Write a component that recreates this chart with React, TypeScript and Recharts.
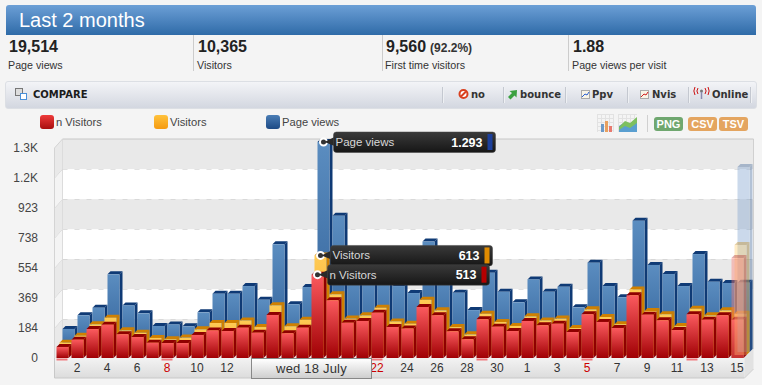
// Last 2 months - visits dashboard, 3D style column chart
import { BarChart, Bar, XAxis, YAxis, ReferenceArea } from 'recharts';

const days = [
  '1', '2', '3', '4', '5', '6', '7', '8', '9', '10', '11', '12', '13', '14', '15', '16',
  '17', '18', '19', '20', '21', '22', '23', '24', '25', '26', '27', '28', '29', '30', '31',
  '1', '2', '3', '4', '5', '6', '7', '8', '9', '10', '11', '12', '13', '14', '15',
];
const sundays = [0, 7, 14, 21, 28, 35, 42];
// these sit under the "wed 18 July" tab
const coveredDays = [13, 14, 15, 16, 17, 18, 19, 20];

const nVisitors = [
  68, 113, 178, 205, 146, 129, 94, 92, 92, 142, 170, 166, 187, 156, 265, 152,
  187, 513, 355, 217, 228, 279, 191, 181, 314, 263, 164, 115, 238, 193, 166,
  228, 201, 211, 160, 269, 222, 185, 386, 267, 232, 172, 269, 236, 263, 236,
];
const visitors = [
  76, 119, 189, 230, 152, 137, 105, 97, 107, 158, 197, 197, 213, 172, 306, 177,
  217, 613, 374, 224, 244, 291, 207, 193, 340, 275, 172, 127, 254, 203, 179,
  238, 213, 224, 166, 281, 234, 190, 404, 271, 251, 178, 285, 244, 275, 254,
];
const pageViews = [
  142, 226, 273, 478, 287, 238, 160, 170, 158, 244, 359, 359, 406, 322, 663, 294,
  400, 1293, 839, 470, 440, 450, 406, 363, 680, 480, 365, 258, 488, 371, 306,
  447, 371, 402, 275, 550, 406, 337, 808, 536, 480, 406, 603, 433, 425, 427,
];

const hoverIndex = 17;
const ghostIndex = 45;
const ghostNVisitors = 616;
const ghostVisitors = 677;
const ghostPageViews = 1139;

const yTicks = [0, 184, 369, 554, 738, 923, 1108, 1293];
const yLabels = ['0', '184', '369', '554', '738', '923', '1.2K', '1.3K'];

const chartData = days.map((day, i) => ({
  day,
  nVisitors: nVisitors[i],
  visitors: visitors[i],
  pageViews: pageViews[i],
  ghostN: i === ghostIndex ? ghostNVisitors : null,
  ghostV: i === ghostIndex ? ghostVisitors : null,
  ghostP: i === ghostIndex ? ghostPageViews : null,
  hoverN: i === hoverIndex ? nVisitors[i] : null,
  hoverV: i === hoverIndex ? visitors[i] : null,
  hoverP: i === hoverIndex ? pageViews[i] : null,
}));

const FONT = '"Liberation Sans", Arial, sans-serif';
const BOLD_UI = '"DejaVu Sans", Verdana, sans-serif';

function Bar3D(props: any) {
  const { x, y, width, height, depth, fill, dark, opacity } = props;
  if (!height || height <= 0) return null;
  const s = 3;
  const fx = x + depth;
  const fy = y - depth;
  const base = fy + height;
  return (
    <g opacity={opacity ?? 1}>
      <polygon
        points={`${fx},${fy} ${fx + s},${fy - s} ${fx + width + s},${fy - s} ${fx + width},${fy}`}
        fill={dark}
      />
      <polygon
        points={`${fx + width},${fy} ${fx + width + s},${fy - s} ${fx + width + s},${base - s} ${fx + width},${base}`}
        fill={dark}
      />
      <rect x={fx} y={fy} width={width} height={height} fill={fill} />
    </g>
  );
}

function HoverTip(props: any) {
  const { x, y, width, height, depth, label, text, chip } = props;
  if (!height || height <= 0) return null;
  const cx = x + depth + width / 2;
  const cy = y - depth;
  const tx = cx + 10;
  return (
    <g>
      <circle cx={cx} cy={cy} r={3.5} fill="#333" stroke="#fff" strokeWidth={2} />
      <polygon points={`${cx + 1},${cy} ${tx + 1},${cy - 5} ${tx + 1},${cy + 4}`} fill="#2a2a2a" />
      <rect x={tx} y={cy - 10} width={162} height={20.5} rx={3} fill="url(#tipFill)" stroke="#444" strokeWidth={0.5} />
      <text x={tx + 2} y={cy + 4} fontSize={11.5} fill="#d8d8d8" fontFamily={FONT}>{label}</text>
      <text x={tx + 149} y={cy + 4.5} fontSize={12.5} fontWeight="bold" fill="#fff" textAnchor="end" fontFamily={FONT}>{text}</text>
      <rect x={tx + 154} y={cy - 8} width={5} height={16} fill={chip} />
    </g>
  );
}

function WallBand(props: any) {
  const { x, y, width, height, shade, floor } = props;
  const dx = 8;
  const dy = 9;
  const right = x + width + 9;
  const bottom = y + height;
  return (
    <g>
      <rect x={x + dx} y={y - dy} width={width + 1} height={height} fill={shade ? '#e9e9e9' : '#fff'} />
      <polygon
        points={`${x},${y} ${x + dx},${y - dy} ${x + dx},${bottom - dy} ${x},${bottom}`}
        fill={shade ? '#e9e9e9' : '#f4f4f4'}
      />
      <line x1={x} y1={y} x2={x + dx} y2={y - dy} stroke="#d4d4d4" />
      <line x1={x} y1={y} x2={x} y2={bottom} stroke="#d4d4d4" />
      <line x1={x + dx} y1={y - dy} x2={x + dx} y2={bottom - dy} stroke="#dcdcdc" />
      <line x1={right} y1={y - dy} x2={right} y2={bottom - dy} stroke="#d0d0d0" />
      <line x1={x + dx} y1={y - dy} x2={right} y2={y - dy} stroke="#c8c8c8" strokeDasharray={props.top ? undefined : '5 7'} />
      {floor && (
        <g>
          <polygon points={`${x},${bottom} ${x + dx},${bottom - dy} ${right},${bottom - dy} ${x + width},${bottom}`} fill="#e4e4e4" />
          <rect x={x} y={bottom} width={width} height={20} fill="url(#axisFill)" />
          <line x1={x} y1={bottom} x2={x} y2={bottom + 20} stroke="#c8c8c8" />
          <line x1={x} y1={bottom + 20} x2={x + width} y2={bottom + 20} stroke="#c8c8c8" />
          <polygon points={`${x + width},${bottom} ${right},${bottom - dy} ${right},${bottom + 11} ${x + width},${bottom + 20}`} fill="#e2e2e2" />
          <line x1={x + width} y1={bottom + 20} x2={right} y2={bottom + 11} stroke="#d0d0d0" />
        </g>
      )}
    </g>
  );
}

function DayTick(props: any) {
  const { x, payload, index } = props;
  const i = payload?.index ?? index;
  const sunday = sundays.includes(i);
  return (
    <g>
      {sunday && <rect x={x - 5.5} y={358.5} width={11} height={2} fill="#ef7a7f" />}
      {i % 2 === 1 && !coveredDays.includes(i) && (
        <text x={x} y={372} fontSize={12} textAnchor="middle" fontFamily={FONT} fill={sunday ? '#cc0000' : '#333'}>
          {days[i]}
        </text>
      )}
    </g>
  );
}

const stats = [
  { x: 9, value: '19,514', extra: '', label: 'Page views' },
  { x: 198, value: '10,365', extra: '', label: 'Visitors' },
  { x: 386, value: '9,560', extra: '(92.2%)', label: 'First time visitors' },
  { x: 573, value: '1.88', extra: '', label: 'Page views per visit' },
];
const statSeparators = [193, 382, 568];
const toolSeparators = [442, 503, 565, 627, 688, 750];
const toolLabels = [
  { x: 471, text: 'no' },
  { x: 520, text: 'bounce' },
  { x: 592, text: 'Ppv' },
  { x: 652, text: 'Nvis' },
  { x: 712, text: 'Online' },
];
const legendItems = [
  { x: 40, tx: 56, text: 'n Visitors', bg: 'linear-gradient(#ee3a3a,#a80f0f)' },
  { x: 154, tx: 170, text: 'Visitors', bg: 'linear-gradient(#ffc23c,#f59a10)' },
  { x: 266, tx: 282, text: 'Page views', bg: 'linear-gradient(#4a7db5,#1d4a85)' },
];
const badges = [
  { x: 654, w: 29, text: 'PNG', bg: '#6fa76f' },
  { x: 688, w: 29, text: 'CSV', bg: '#e4a560' },
  { x: 719, w: 29, text: 'TSV', bg: '#e4a560' },
];

function abs(x: number, y: number, w?: number, h?: number): any {
  return { position: 'absolute', left: x, top: y, width: w, height: h };
}

function ToolIcons() {
  return (
    <svg style={abs(0, 0, 762, 140)} width={762} height={140}>
      {/* compare */}
      <rect x={15.5} y={88.5} width={7} height={7} fill="#ddd" stroke="#777" />
      <rect x={20.5} y={93.5} width={6} height={6} fill="#fff" stroke="#4a90d9" />
      {/* no */}
      <circle cx={463.5} cy={94} r={4} fill="#fff" stroke="#d9401f" strokeWidth={2} />
      <line x1={461} y1={96.5} x2={466} y2={91.5} stroke="#d9401f" strokeWidth={2} />
      {/* bounce */}
      <polygon points="508,97 512,93 509.5,91 517,90 516.5,97.5 514.5,95.5 510.5,99.5" fill="#3aa040" />
      {/* Ppv */}
      <rect x={581.5} y={90.5} width={8} height={8} fill="#f8f4e6" stroke="#aaa" />
      <polyline points="582,97 585,94 587,95 589,92" fill="none" stroke="#2a5fd0" />
      {/* Nvis */}
      <rect x={640.5} y={90.5} width={8} height={8} fill="#f8f4e6" stroke="#aaa" />
      <polyline points="641,97 644,94 646,95 648,92" fill="none" stroke="#d02020" />
      {/* Online */}
      <circle cx={701.5} cy={91} r={1.5} fill="#777" />
      <line x1={701.5} y1={92} x2={701.5} y2={99} stroke="#8a8ab0" strokeWidth={1.5} />
      <path d="M698 88 a5 5 0 0 0 0 6 M705 88 a5 5 0 0 1 0 6 M695 87 a8 8 0 0 0 0 8 M708 87 a8 8 0 0 1 0 8" fill="none" stroke="#cc1010" />
      {/* chart type toggles */}
      <g stroke="#e2e2e2">
        {[597, 601, 605, 609, 613].map((v) => <line key={`a${v}`} x1={v + 0.5} y1={114} x2={v + 0.5} y2={132} />)}
        {[114, 118, 122, 126, 130].map((v) => <line key={`b${v}`} x1={597} y1={v + 0.5} x2={614} y2={v + 0.5} />)}
        {[618, 622, 626, 630, 634].map((v) => <line key={`c${v}`} x1={v + 0.5} y1={114} x2={v + 0.5} y2={132} />)}
        {[114, 118, 122, 126, 130].map((v) => <line key={`d${v}`} x1={618} y1={v + 0.5} x2={637} y2={v + 0.5} />)}
      </g>
      <rect x={601} y={124} width={3} height={8} fill="#6d9ac8" />
      <rect x={605} y={121} width={3} height={11} fill="#e8a060" />
      <rect x={609} y={126} width={3} height={6} fill="#e87a70" />
      <polygon points="619,132 619,126 625,122 630,125 637,118 637,132" fill="#5a9fd0" />
      <polygon points="619,127 625,121 630,123 637,117 637,123 630,128 625,126 619,130" fill="#7dc060" />
      <line x1={647.5} y1={115} x2={647.5} y2={132} stroke="#d0d0d0" />
    </svg>
  );
}

export default function App() {
  return (
    <div style={{ position: 'fixed', left: 0, top: 0, width: 762, height: 385, background: '#f4f4f4', overflow: 'hidden', fontFamily: FONT, color: '#222' }}>
      {/* title */}
      <div style={{ ...abs(6, 5, 750, 30), background: 'linear-gradient(#6c9fd6,#2f6ba8)', borderRadius: '3px 3px 0 0' }} />
      <div style={{ ...abs(19, 7), fontSize: 20, color: '#fff', whiteSpace: 'nowrap', lineHeight: '26px' }}>Last 2 months</div>

      {/* stats row */}
      {statSeparators.map((x) => (
        <div key={x} style={{ ...abs(x, 35, 1, 36), background: '#ccc' }} />
      ))}
      {stats.map((s) => (
        <div key={s.x}>
          <div style={{ ...abs(s.x, 38), fontSize: 16, fontWeight: 'bold', lineHeight: '18px', whiteSpace: 'nowrap', color: '#222' }}>
            {s.value}
            {s.extra && <span style={{ fontSize: 12, marginLeft: 4, color: '#333' }}>{s.extra}</span>}
          </div>
          <div style={{ ...abs(s.x - 1, 58), fontSize: 10.7, lineHeight: '14px', whiteSpace: 'nowrap', color: '#333' }}>{s.label}</div>
        </div>
      ))}

      {/* compare toolbar */}
      <div style={{ ...abs(5, 81, 750, 26), background: 'linear-gradient(#f3f4f7,#d3d7e0)', border: '1px solid #dcdfe4', borderRadius: 3 }} />
      <div style={{ ...abs(33, 88), fontFamily: BOLD_UI, fontWeight: 'bold', fontSize: 10, lineHeight: '14px', color: '#1c1c1c' }}>COMPARE</div>
      {toolSeparators.map((x) => (
        <div key={x} style={{ ...abs(x, 87, 1, 16), background: '#eef0f3', borderLeft: '1px solid #c4c8d0' }} />
      ))}
      {toolLabels.map((t) => (
        <div key={t.text} style={{ ...abs(t.x, 88), fontFamily: BOLD_UI, fontWeight: 'bold', fontSize: 10, lineHeight: '14px', color: '#333' }}>{t.text}</div>
      ))}

      {/* legend */}
      {legendItems.map((l) => (
        <div key={l.text}>
          <div style={{ ...abs(l.x, 115, 14, 14), background: l.bg, borderRadius: 3 }} />
          <div style={{ ...abs(l.tx, 115), fontSize: 11.2, lineHeight: '14px', color: '#444', whiteSpace: 'nowrap' }}>{l.text}</div>
        </div>
      ))}
      {badges.map((b) => (
        <div key={b.text} style={{ ...abs(b.x, 117, b.w, 14), background: b.bg, borderRadius: 3, color: '#fff', fontWeight: 'bold', fontSize: 11, lineHeight: '14px', textAlign: 'center' }}>{b.text}</div>
      ))}
      <ToolIcons />

      {/* chart */}
      <div style={abs(0, 0, 762, 385)}>
        <BarChart
          width={762}
          height={385}
          data={chartData}
          margin={{ top: 148, right: 17, bottom: 23, left: 0 }}
          barSize={12}
          barGap={-12}
          style={{ overflow: 'visible' }}
        >
          <defs>
            <linearGradient id="blueFill" x1="0" y1="0" x2="0" y2="1">
              <stop offset="0%" stopColor="#5b8dc0" />
              <stop offset="100%" stopColor="#2e5e96" />
            </linearGradient>
            <linearGradient id="redFill" x1="0" y1="0" x2="0" y2="1">
              <stop offset="0%" stopColor="#fb5a5e" />
              <stop offset="100%" stopColor="#a00004" />
            </linearGradient>
            <linearGradient id="orangeFill" x1="0" y1="0" x2="0" y2="1">
              <stop offset="0%" stopColor="#ffcb55" />
              <stop offset="100%" stopColor="#f0a020" />
            </linearGradient>
            <linearGradient id="axisFill" x1="0" y1="0" x2="0" y2="1">
              <stop offset="0%" stopColor="#f3f3f3" />
              <stop offset="100%" stopColor="#dcdcdc" />
            </linearGradient>
            <linearGradient id="tipFill" x1="0" y1="0" x2="0" y2="1">
              <stop offset="0%" stopColor="#3a3a3a" />
              <stop offset="100%" stopColor="#161616" />
            </linearGradient>
          </defs>

          {yTicks.slice(0, -1).map((tick, i) => (
            <ReferenceArea
              key={tick}
              y1={tick}
              y2={yTicks[i + 1]}
              ifOverflow="visible"
              shape={(p: any) => <WallBand {...p} shade={i % 2 === 0} floor={i === 0} top={i === yTicks.length - 2} />}
            />
          ))}

          <XAxis
            dataKey="day"
            interval={0}
            height={4}
            axisLine={false}
            tickLine={false}
            padding={{ left: 8.5, right: 0.5 }}
            tick={(p: any) => <DayTick {...p} />}
          />
          <YAxis
            width={46}
            domain={[0, 1293]}
            ticks={yTicks}
            tickFormatter={(v: number) => yLabels[yTicks.indexOf(v)]}
            axisLine={false}
            tickLine={false}
            tickMargin={2}
            tick={{ fontSize: 12, fill: '#444', fontFamily: FONT }}
          />

          <Bar dataKey="pageViews" isAnimationActive={false} fill="#2e5e96" shape={(p: any) => <Bar3D {...p} depth={6} fill="url(#blueFill)" dark="#0f3a75" />} />
          <Bar dataKey="visitors" isAnimationActive={false} fill="#f0a020" shape={(p: any) => <Bar3D {...p} depth={3} fill="url(#orangeFill)" dark="#d08000" />} />
          <Bar dataKey="nVisitors" isAnimationActive={false} fill="#a00004" shape={(p: any) => <Bar3D {...p} depth={0} fill="url(#redFill)" dark="#8f0000" />} />

          <Bar dataKey="ghostP" isAnimationActive={false} shape={(p: any) => <Bar3D {...p} depth={6} fill="#7fa3cf" dark="#44699a" opacity={0.4} />} />
          <Bar dataKey="ghostV" isAnimationActive={false} shape={(p: any) => <Bar3D {...p} depth={3} fill="#ffd070" dark="#c08a20" opacity={0.4} />} />
          <Bar dataKey="ghostN" isAnimationActive={false} shape={(p: any) => <Bar3D {...p} depth={0} fill="#ff7d70" dark="#b03030" opacity={0.4} />} />

          <Bar dataKey="hoverP" isAnimationActive={false} shape={(p: any) => <HoverTip {...p} depth={6} label="Page views" text="1.293" chip="#1c3f9a" />} />
          <Bar dataKey="hoverV" isAnimationActive={false} shape={(p: any) => <HoverTip {...p} depth={3} label="Visitors" text="613" chip="#e08b00" />} />
          <Bar dataKey="hoverN" isAnimationActive={false} shape={(p: any) => <HoverTip {...p} depth={0} label="n Visitors" text="513" chip="#b50000" />} />
        </BarChart>
      </div>

      {/* selected day tab */}
      <div style={{ ...abs(251, 358, 119, 19), background: 'linear-gradient(#ffffff,#cfcfcf)', border: '1px solid #888', fontSize: 13, lineHeight: '19px', textAlign: 'center', color: '#333', letterSpacing: 0.2 }}>
        wed 18 July
      </div>
    </div>
  );
}
